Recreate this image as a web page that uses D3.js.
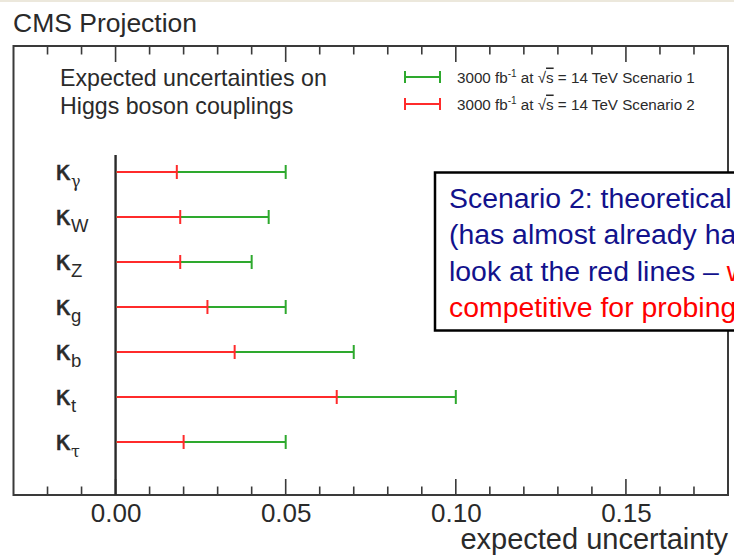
<!DOCTYPE html>
<html>
<head>
<meta charset="utf-8">
<script src="https://cdn.jsdelivr.net/npm/d3@7"></script>
<style>
  html, body { margin: 0; padding: 0; background: #fff; }
  svg { display: block; font-family: "Liberation Sans", Arial, sans-serif; }
</style>
</head>
<body>
<div id="chart"></div>
<script>
// ── Data ──────────────────────────────────────────────────────────────────
const couplings  = ['γ', 'W', 'Z', 'g', 'b', 't', 'τ'];
const scenario1  = [0.050, 0.045, 0.040, 0.050, 0.070, 0.100, 0.050];
const scenario2  = [0.018, 0.019, 0.019, 0.027, 0.035, 0.065, 0.020];
const majorTicks = [0.00, 0.05, 0.10, 0.15];
const minorTicks = [-0.02, -0.01, 0.01, 0.02, 0.03, 0.04, 0.06, 0.07, 0.08, 0.09,
                    0.11, 0.12, 0.13, 0.14, 0.16, 0.17];
const legendLabels = ['Scenario 1', 'Scenario 2'];
const boxLines = [
  [{ t: 'Scenario 2: theoretical uncertainties halved', c: 'blue' }],
  [{ t: '(has almost already happened)', c: 'blue' }],
  [{ t: 'look at the red lines – ', c: 'blue' }, { t: 'we are', c: 'red' }],
  [{ t: 'competitive for probing new physics', c: 'red' }],
];

const W = 734, H = 556;
const GREEN = '#2ea92e', RED = '#ff2b2b', NAVY = '#12128c', INK = '#2a2a2a';
const F = { left: 13.5, right: 728, top: 46, bottom: 495 };

const svg = d3.select('#chart').append('svg').attr('width', W).attr('height', H);

// faint slide edge at the top
svg.append('line').attr('x1', 0).attr('x2', W).attr('y1', 1).attr('y2', 1)
  .attr('stroke', '#ece8dc').attr('stroke-width', 2);

// ── Scales ────────────────────────────────────────────────────────────────
const x = d3.scaleLinear().domain([-0.03, 0.18]).range([F.left, F.right]);
const y = d3.scalePoint().domain(couplings).range([172, 442]);

// ── Title / header text ───────────────────────────────────────────────────
svg.append('text').attr('x', 13).attr('y', 31.5)
  .attr('font-size', 26.5).attr('fill', INK).text('CMS Projection');

svg.append('text').attr('x', 60).attr('y', 86)
  .attr('font-size', 23.2).attr('fill', INK).text('Expected uncertainties on');
svg.append('text').attr('x', 60).attr('y', 114)
  .attr('font-size', 23.2).attr('fill', INK).text('Higgs boson couplings');

// ── Frame ─────────────────────────────────────────────────────────────────
svg.append('rect')
  .attr('x', F.left).attr('y', F.top)
  .attr('width', F.right - F.left).attr('height', F.bottom - F.top)
  .attr('fill', 'none').attr('stroke', '#3a3a3a').attr('stroke-width', 2);

// ── Ticks ─────────────────────────────────────────────────────────────────
const ticksG = svg.append('g').attr('stroke', '#3a3a3a').attr('stroke-width', 1.6);
[[F.top, 1], [F.bottom, -1]].forEach(([y0, dir]) => {
  ticksG.selectAll(null).data(minorTicks).join('line')
    .attr('x1', d => x(d)).attr('x2', d => x(d))
    .attr('y1', y0).attr('y2', y0 + dir * 8.5);
  ticksG.selectAll(null).data(majorTicks).join('line')
    .attr('x1', d => x(d)).attr('x2', d => x(d))
    .attr('y1', y0).attr('y2', y0 + dir * 16);
});

// bottom axis labels
const axisB = svg.append('g').attr('transform', `translate(0,${F.bottom})`)
  .call(d3.axisBottom(x).tickValues(majorTicks).tickSize(0).tickFormat(d3.format('.2f')));
axisB.select('.domain').remove();
axisB.selectAll('text')
  .attr('y', 26.5).attr('dy', 0)
  .attr('font-size', 26).attr('font-family', '"Liberation Sans", Arial, sans-serif')
  .attr('fill', INK);

svg.append('text').attr('x', 728).attr('y', 548.5).attr('text-anchor', 'end')
  .attr('font-size', 29).attr('fill', INK).text('expected uncertainty');

// zero line
svg.append('line')
  .attr('x1', x(0)).attr('x2', x(0))
  .attr('y1', 155).attr('y2', F.bottom)
  .attr('stroke', '#2a2a2a').attr('stroke-width', 2.4);

// ── Bars ──────────────────────────────────────────────────────────────────
const rows = couplings.map((k, i) => ({ k, s1: scenario1[i], s2: scenario2[i] }));
const barsG = svg.append('g').attr('stroke-width', 2);

function errBar(g, v, yy, color) {
  g.append('line').attr('x1', x(0) + 1).attr('x2', x(v))
    .attr('y1', yy).attr('y2', yy).attr('stroke', color);
  g.append('line').attr('x1', x(v)).attr('x2', x(v))
    .attr('y1', yy - 7).attr('y2', yy + 7).attr('stroke', color);
}

rows.forEach(d => {
  const g = barsG.append('g');
  errBar(g, d.s1, y(d.k), GREEN);
  errBar(g, d.s2, y(d.k), RED);
});

// ── Row labels κ_x ────────────────────────────────────────────────────────
const labG = svg.append('g').attr('fill', INK);
const greek = new Set(['γ', 'τ']);
rows.forEach(d => {
  const t = labG.append('text').attr('x', 55).attr('y', y(d.k) + 7.5);
  t.append('tspan').attr('font-size', 27).attr('font-family', '"DejaVu Sans", sans-serif')
    .attr('stroke', INK).attr('stroke-width', 0.5).text('κ');
  t.append('tspan').attr('font-size', greek.has(d.k) ? 16 : 18.5).attr('dy', 7)
    .attr('font-family', greek.has(d.k) ? '"DejaVu Serif", serif' : null)
    .text(d.k);
});

// ── Legend ────────────────────────────────────────────────────────────────
const legG = svg.append('g');
[GREEN, RED].forEach((c, i) => {
  const ly = 77 + i * 27;
  legG.append('line').attr('x1', 405).attr('x2', 440).attr('y1', ly).attr('y2', ly)
    .attr('stroke', c).attr('stroke-width', 2);
  [405, 440].forEach(xx => legG.append('line')
    .attr('x1', xx).attr('x2', xx).attr('y1', ly - 6).attr('y2', ly + 6)
    .attr('stroke', c).attr('stroke-width', 2));
  const t = legG.append('text').attr('x', 457).attr('y', ly + 5.5)
    .attr('font-size', 15.2).attr('fill', INK);
  t.append('tspan').text('3000 fb');
  t.append('tspan').attr('font-size', 10).attr('dy', -6).text('-1');
  t.append('tspan').attr('dy', 6).text(' at  ');
  t.append('tspan').text('√');
  t.append('tspan').style('text-decoration', 'overline').text('s');
  t.append('tspan').text(` = 14 TeV ${legendLabels[i]}`);
});

// ── Annotation box ────────────────────────────────────────────────────────
svg.append('rect')
  .attr('x', 435).attr('y', 172.5).attr('width', 340).attr('height', 158)
  .attr('fill', '#fff').attr('stroke', '#000').attr('stroke-width', 2.5);

const boxG = svg.append('g').attr('font-size', 28.4);
boxLines.forEach((parts, i) => {
  const t = boxG.append('text').attr('x', 449).attr('y', 207.5 + i * 36.5);
  parts.forEach(p => t.append('tspan')
    .attr('fill', p.c === 'red' ? '#ff0000' : NAVY).text(p.t));
});
</script>
</body>
</html>
